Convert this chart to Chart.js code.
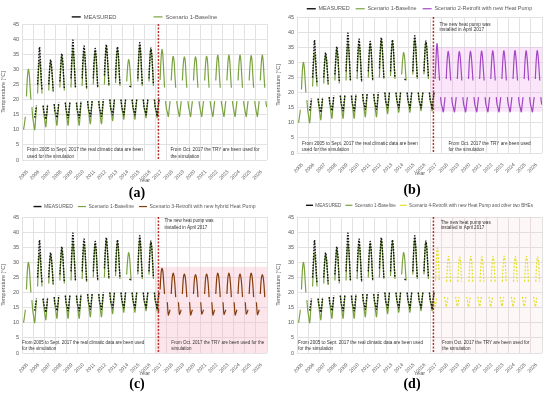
<!DOCTYPE html>
<html>
<head>
<meta charset="utf-8">
<script src="https://cdn.jsdelivr.net/npm/chart.js@4.4.0/dist/chart.umd.min.js"></script>
<style>
  body { margin: 0; background: #fff; }
  #wrap { position: relative; width: 550px; height: 395px; overflow: hidden; }
  canvas { position: absolute; }
  .cap { position: absolute; width: 40px; text-align: center; font: bold 14px "Liberation Serif", serif; color: #000; line-height: 16px; }
</style>
</head>
<body>
<div id="wrap">
  <canvas id="ca" width="275" height="184" style="left:0;top:0"></canvas>
  <canvas id="cb" width="275" height="177" style="left:275px;top:0"></canvas>
  <canvas id="cc" width="275" height="180" style="left:0;top:197px"></canvas>
  <canvas id="cd" width="275" height="180" style="left:275px;top:197px"></canvas>
  <div class="cap" style="left:117px;top:185px">(a)</div>
  <div class="cap" style="left:392px;top:182px">(b)</div>
  <div class="cap" style="left:117px;top:376px">(c)</div>
  <div class="cap" style="left:392px;top:376px">(d)</div>
</div>
<script>
// x axis: years (categories), y axis: temperature
const years = [2005, 2006, 2007, 2008, 2009, 2010, 2011, 2012, 2013, 2014, 2015,
               2016, 2017, 2018, 2019, 2020, 2021, 2022, 2023, 2024, 2025, 2026];
const yTicks = [0, 5, 10, 15, 20, 25, 30, 35, 40, 45];
const retrofitDate = 2017.25; // April 2017

// position of each value inside its year: winter V | gap | summer arch | gap | winter V
const seasonFrac = [0.05, 0.14, 0.22, 0.30, 0.34, 0.40, 0.48, 0.57, 0.65, 0.73, 0.80, 0.84, 0.89, 0.97];

// measured, 2005 - 2017
const measured = [
  [null, null, null, null, null, null, null, null, null, null, null, null, null, null],
  [null, 14, 16, 18, null, 25, 31, 37.4, 33, 27, 23, null, 18, 16],
  [15, 13.5, 15.5, 18.5, null, 25, 30, 33.2, 31, 27, 23, null, 18.5, 16],
  [15.5, 14, 16, 19, null, 26, 31, 35.2, 33, 28, 23.5, null, 19, 16.5],
  [15.5, 14, 16.5, 19, null, 27, 34, 39.7, 35, 29, 24, null, 19, 16.5],
  [15.5, 14, 16.5, 19.5, null, 27, 34, 37.7, 34.5, 29, 24, null, 19.5, 17],
  [16, 14.5, 17, 19.5, null, 27, 33, 36.9, 34.5, 29, 24, null, 19.5, 17],
  [16, 14.5, 17, 20, null, 28, 34, 38.2, 35, 30, 25, null, 20, 17],
  [16.5, 15, 17.5, 20, null, 27, 34, 37.4, 35, 29, 25, null, 20, 17.5],
  [16.5, 15, 17.5, 20, null, null, null, null, 24.5, 24.3, 24.3, null, 20, 17.5],
  [16.5, 15, 17.5, 20, null, 27, 34, 38.8, 36, 30, 25, null, 20, 17.5],
  [16.5, 15, 17.5, 20, null, 27, 33, 37, 35, 30, 25, null, 20, 17.5],
  [16.5, 14.5, 17.5, 20, null, null, null, null, null, null, null, null, null, null]
];

// scenario 1 baseline, 2005 - 2026
const baseline = [
  [null, 10, 12, 14.3, null, 21, 27, 30, 28.5, 24, 20, null, 17.5, 14],
  [12, 10, 13.5, 17.5, null, 22, 29, 33, 31, 26, 22, null, 18, 15],
  [13, 11, 14.5, 18, null, 23, 29.5, 32.4, 31, 27, 22.5, null, 18.5, 15.5],
  [13.5, 11.5, 15, 18.5, null, 24, 30.5, 34.3, 32.5, 28, 23, null, 19, 16],
  [13.5, 11.5, 15, 19, null, 24, 32, 36.3, 34, 29, 24, null, 19, 16],
  [13.5, 11.5, 15, 19, null, 24.5, 32, 36, 34, 29, 23.5, null, 19.5, 16.5],
  [14, 12, 15.5, 19.5, null, 25, 32, 35.8, 34, 29, 24, null, 19.5, 16.5],
  [14, 12, 15.5, 19.5, null, 25, 33, 37.4, 35, 30, 24.5, null, 20, 17],
  [15, 13, 16, 20, null, 25.5, 33, 36.6, 34.5, 29, 24.5, null, 20, 17],
  [15.5, 13.5, 16.5, 20, null, 26, 30.5, 33.2, 32, 28, 24, null, 20, 17],
  [15.5, 13.5, 16.5, 20, null, 26, 33.5, 37.4, 35.5, 30, 24.5, null, 20, 17],
  [16, 14, 17, 20, null, 26, 33, 36.6, 35, 30, 24.5, null, 20, 17],
  [16, 14, 17, 20, null, 26.5, 33, 36.6, 34.5, 29, 24, null, 19.5, 17],
  [15.8, 14.4, 17, 19.5, null, 26.3, 31.5, 34.3, 33, 28, 23.9, null, 19.5, 17.5],
  [15.8, 14.4, 17, 19.5, null, 26.3, 31.5, 34.1, 33, 28, 23.9, null, 19.5, 17.5],
  [15.8, 14.4, 17, 19.5, null, 26.3, 31.5, 34.1, 33, 28, 23.9, null, 19.5, 17.5],
  [15.8, 14.4, 17, 19.5, null, 26.3, 31.5, 34.3, 33, 28, 23.9, null, 19.5, 17.5],
  [15.8, 14.4, 17, 19.5, null, 26.3, 31.5, 34.7, 33, 28, 23.9, null, 19.5, 17.5],
  [15.8, 14.4, 17, 19.5, null, 26.3, 31.5, 34.7, 33, 28, 23.9, null, 19.5, 17.5],
  [15.8, 14.4, 17, 19.5, null, 26.3, 31.5, 34.7, 33, 28, 23.9, null, 19.5, 17.5],
  [15.8, 14.4, 17, 19.5, null, 26.3, 31.5, 34.5, 33, 28, 23.9, null, 19.5, 17.5],
  [15.8, 14.4, 17, 19.5, null, 26.3, 31.5, 34.7, 33, 28, 23.9, null, 19.5, 17.5]
];

// scenario 2, 2017 - 2026
const scenario2 = [
  [null, null, null, null, null, 24.5, 31, 36.2, 33, 28, 24, null, 18.5, 16],
  [15, 13.6, 16, 18.5, null, 24.5, 30.5, 33.6, 32, 28, 24, null, 18.5, 16],
  [15, 13.6, 16, 18.5, null, 24.5, 30.5, 33.5, 32, 28, 24, null, 18.5, 16],
  [15, 13.6, 16, 18.5, null, 24.5, 30.5, 33.6, 32, 28, 24, null, 18.5, 16],
  [15, 13.6, 16, 18.5, null, 24.5, 30.5, 33.7, 32, 28, 24, null, 18.5, 16],
  [15, 13.6, 16, 18.5, null, 24.5, 30.5, 33.8, 32, 28, 24, null, 18.5, 16],
  [15, 13.6, 16, 18.5, null, 24.5, 30.5, 33.8, 32, 28, 24, null, 18.5, 16],
  [15, 13.6, 16, 18.5, null, 24.5, 30.5, 33.9, 32, 28, 24, null, 18.5, 16],
  [15, 13.6, 16, 18.5, null, 24.5, 30.5, 33.8, 32, 28, 24, null, 18.5, 16],
  [15, 13.6, 16, 18.5, null, 24.5, 30.5, 33.9, 32, 28, 24, null, 18.5, 16]
];

// scenario 3, 2017 - 2026
const scenario3 = [
  [null, null, 13.4, 14.3, null, 21, 26, 28, 27, 23, 19.5, null, null, null],
  [16.8, 12.6, 13.4, 14.3, null, 19.5, 24.5, 26.4, 25.5, 22.5, 18.5, null, null, null],
  [16.8, 12.8, 13.5, 14.3, null, 19.5, 24.5, 26.1, 25.3, 22.5, 18.5, null, null, null],
  [16.8, 12.6, 13.4, 14.3, null, 19.5, 24.3, 25.9, 25.2, 22.5, 18.5, null, null, null],
  [16.8, 12.9, 13.5, 14.3, null, 19.5, 24.5, 26.1, 25.3, 22.5, 18.5, null, null, null],
  [16.8, 12.6, 13.4, 14.3, null, 19.5, 24.5, 26.4, 25.5, 22.5, 18.5, null, null, null],
  [16.8, 12.8, 13.5, 14.3, null, 19.5, 24.5, 26.4, 25.5, 22.5, 18.5, null, null, null],
  [16.8, 12.6, 13.4, 14.3, null, 19.5, 24.5, 26.1, 25.3, 22.5, 18.5, null, null, null],
  [16.8, 12.9, 13.5, 14.3, null, 19.5, 24.5, 26.4, 25.5, 22.5, 18.5, null, null, null],
  [16.8, 12.7, 13.4, 14.3, null, 19.5, 24.3, 25.9, 25.2, 22.5, 18.5, null, null, null]
];

// scenario 4, 2017 - 2026 (summer branch and winter branch)
const s4UpperFrac = [0.44, 0.52, 0.61, 0.70, 0.78, 0.81];
const scenario4Upper = [
  [24, 31, 34.8, 31, 24, null],
  [23.6, 29.5, 32, 29.5, 23.6, null],
  [23.6, 29.5, 31.8, 29.5, 23.6, null],
  [23.6, 29.5, 32, 29.5, 23.6, null],
  [23.6, 29.5, 31.9, 29.5, 23.6, null],
  [23.6, 29.5, 32, 29.5, 23.6, null],
  [23.6, 29.5, 32.1, 29.5, 23.6, null],
  [23.6, 29.5, 31.9, 29.5, 23.6, null],
  [23.6, 29.5, 32, 29.5, 23.6, null],
  [23.6, 29.5, 31.8, 29.5, 23.6, null]
];
const s4LowerFrac = [0.24, 0.32, 0.40, 0.48, 0.56, 0.59];
const scenario4Lower = [
  [null, 17, 15.5, 17, 18.6, null],
  [18.6, 16.8, 15.3, 16.8, 18.6, null],
  [18.6, 16.8, 15.5, 16.8, 18.6, null],
  [18.6, 16.8, 15.3, 16.8, 18.6, null],
  [18.6, 16.8, 15.4, 16.8, 18.6, null],
  [18.6, 16.8, 15.3, 16.8, 18.6, null],
  [18.6, 16.8, 15.5, 16.8, 18.6, null],
  [18.6, 16.8, 15.3, 16.8, 18.6, null],
  [18.6, 16.8, 15.4, 16.8, 18.6, null],
  [18.6, 16.8, 15.3, 16.8, 18.6, null]
];

const FONT = '"Liberation Sans", Arial, sans-serif';
const GREY = '#595959';
const GRID = '#e2e2e2';
Chart.defaults.font.family = FONT;

function toPoints(rows, firstYear, fracs) {
  const pts = [];
  rows.forEach((row, i) => row.forEach((v, j) => pts.push({x: firstYear + i + fracs[j], y: v})));
  return pts;
}

function line(label, data, color, extra) {
  return Object.assign({label, data, borderColor: color, backgroundColor: color, borderWidth: 1.2,
    xAxisID: 'x', yAxisID: 'y'}, extra || {});
}

function notes(p) {
  return {
    id: 'notes',
    beforeDatasetsDraw(chart) {
      if (!p.band) return;
      const {ctx, scales: {x, y}} = chart;
      const b = p.band;
      const x0 = x.getPixelForValue(b[0]), x1 = x.getPixelForValue(b[1]);
      const y0 = y.getPixelForValue(b[2]), y1 = y.getPixelForValue(b[3]);
      ctx.save();
      ctx.fillStyle = b[4];
      ctx.fillRect(x0, y1, x1 - x0, y0 - y1);
      ctx.restore();
    },
    afterDatasetsDraw(chart) {
      const {ctx, chartArea: a, scales: {x, y}} = chart;
      ctx.save();
      const px = x.getPixelForValue(retrofitDate);
      ctx.strokeStyle = '#b8332a';
      ctx.lineWidth = 1.5;
      ctx.setLineDash([2, 1.5]);
      ctx.beginPath();
      ctx.moveTo(px, a.top);
      ctx.lineTo(px, a.bottom);
      ctx.stroke();
      ctx.setLineDash([]);
      ctx.fillStyle = '#333';
      ctx.textBaseline = 'middle';
      ctx.textAlign = 'left';
      ctx.font = p.noteSize + 'px ' + FONT;
      p.texts.forEach(t => ctx.fillText(t[2], x.getPixelForValue(t[0]), y.getPixelForValue(t[1])));
      ctx.restore();
    }
  };
}

const leftA = ['From 2005 to Sept. 2017 the real climatic data are been', 'used for the simulation'];
const leftC = ['From 2005 to Sept. 2017 the real climatic data are been used', 'for the simulation'];
const hp = ['The new heat pump was', 'installed in April 2017'];

function makeChart(id, p) {
  const basePts = toPoints(baseline, 2005, seasonFrac);
  const datasets = [
    line('MEASURED', toPoints(measured, 2005, seasonFrac), '#111', {borderWidth: 1.4, borderDash: [1.6, 1.3]}),
    line('Scenario 1-Baseline', p.fullBaseline ? basePts : basePts.filter(pt => pt.x < 2017.32), '#7aa33f')
  ].concat(p.extra || []);

  return new Chart(document.getElementById(id), {
    type: 'line',
    data: {datasets},
    options: {
      responsive: false,
      animation: false,
      layout: {padding: {top: p.top, right: 8, left: 0, bottom: 0}},
      elements: {point: {radius: 0}, line: {tension: 0.35, fill: false}},
      scales: {
        x: {
          type: 'linear', axis: 'x', position: 'bottom', min: 2005, max: 2027,
          afterBuildTicks: s => { s.ticks = years.concat([2027]).map(v => ({value: v})); },
          ticks: {display: false},
          grid: {color: GRID, drawTicks: false},
          border: {display: false},
          afterFit: s => { s.height = 0; }
        },
        xl: {
          type: 'linear', axis: 'x', position: 'bottom', min: 2005, max: 2027,
          afterBuildTicks: s => { s.ticks = years.map(v => ({value: v + 0.5})); },
          grid: {display: false},
          border: {display: false},
          ticks: {autoSkip: false, minRotation: 45, maxRotation: 45, padding: 1, color: GREY,
                  font: {size: 5}, callback: v => String(Math.floor(v))},
          title: {display: true, text: 'Year', color: GREY, font: {size: 5.5}, padding: {top: 1, bottom: 0}},
          afterFit: s => { s.height = 24; }
        },
        y: {
          min: 0, max: 45,
          afterBuildTicks: s => { s.ticks = yTicks.map(v => ({value: v})); },
          ticks: {color: GREY, font: {size: 5.5}, padding: 3},
          grid: {color: GRID, drawTicks: false},
          border: {display: false},
          title: {display: true, text: 'Temperature [°C]', color: GREY, font: {size: 5.5}, padding: 0},
          afterFit: s => { s.width = 22; }
        }
      },
      plugins: {
        tooltip: {enabled: false},
        legend: {
          position: 'top',
          fullSize: false,
          maxHeight: p.legendH,
          labels: {
            usePointStyle: true, pointStyle: 'line', pointStyleWidth: p.symW || 9, padding: p.legendPad || 8,
            color: GREY, font: {size: p.legendFont},
            filter: (item, data) => !data.datasets[item.datasetIndex].noLegend,
            generateLabels: chart => Chart.defaults.plugins.legend.labels.generateLabels(chart)
              .map((l, i) => (i === 0 && p.legendGap) ? Object.assign(l, {text: l.text + ' '.repeat(p.legendGap)}) : l)
          }
        }
      }
    },
    plugins: [notes(p)]
  });
}

makeChart('ca', {
  top: 6, legendH: 18, legendFont: 5.8, legendGap: 18, fullBaseline: true, noteSize: 4.7,
  texts: [[2005.45, 3.3, leftA[0]], [2005.45, 1.1, leftA[1]],
          [2018.33, 3.3, 'From Oct. 2017 the TRY are been used for'], [2018.33, 1.1, 'the simulation']]
});

makeChart('cb', {
  top: 0, legendH: 17, legendFont: 5.5, legendPad: 6, noteSize: 4.7,
  band: [2017.0, 2027, 13.7, 35, 'rgba(240,150,235,0.25)'],
  extra: [line('Scenario 2-Retrofit with new Heat Pump', toPoints(scenario2, 2017, seasonFrac), '#a347c4')],
  texts: [[2005.45, 3.2, leftA[0]], [2005.45, 1.2, leftA[1]],
          [2018.6, 3.2, 'From Oct. 2017 the TRY are been used'], [2018.6, 1.2, 'for the simulation'],
          [2017.79, 42.6, hp[0]], [2017.79, 40.8, hp[1]]]
});

makeChart('cc', {
  top: 2, legendH: 18, legendFont: 5.1, legendPad: 5, symW: 8, noteSize: 4.5,
  band: [2017.0, 2027, 0, 28.5, 'rgba(250,180,200,0.35)'],
  extra: [line('Scenario 3-Retrofit with new hybrid Heat Pump', toPoints(scenario3, 2017, seasonFrac), '#843c0c')],
  texts: [[2005.0, 3.5, leftC[0]], [2005.0, 1.5, leftC[1]],
          [2018.4, 3.5, 'From Oct. 2017 the TRY are been used for the'], [2018.4, 1.5, 'simulation'],
          [2017.8, 43.7, hp[0]], [2017.8, 41.6, hp[1]]]
});

makeChart('cd', {
  top: 2, legendH: 18, legendFont: 4.6, legendPad: 4, symW: 7, noteSize: 4.6,
  band: [2017.25, 2027, 0, 45, 'rgba(250,190,200,0.12)'],
  extra: [
    line('Scenario 4-Retrofit with new Heat Pump and other two BHEs', toPoints(scenario4Upper, 2017, s4UpperFrac), '#e0e028', {borderDash: [2, 1.5]}),
    line('Scenario 4 winter', toPoints(scenario4Lower, 2017, s4LowerFrac), '#e0e028', {borderDash: [2, 1.5], noLegend: true})
  ],
  texts: [[2005.1, 3.5, leftC[0]], [2005.1, 1.5, leftC[1]],
          [2018.03, 3.5, 'From Oct. 2017 the TRY are been used for'], [2018.03, 1.5, 'the simulation'],
          [2017.9, 43.1, hp[0]], [2017.9, 41.3, hp[1]]]
});
</script>
</body>
</html>
